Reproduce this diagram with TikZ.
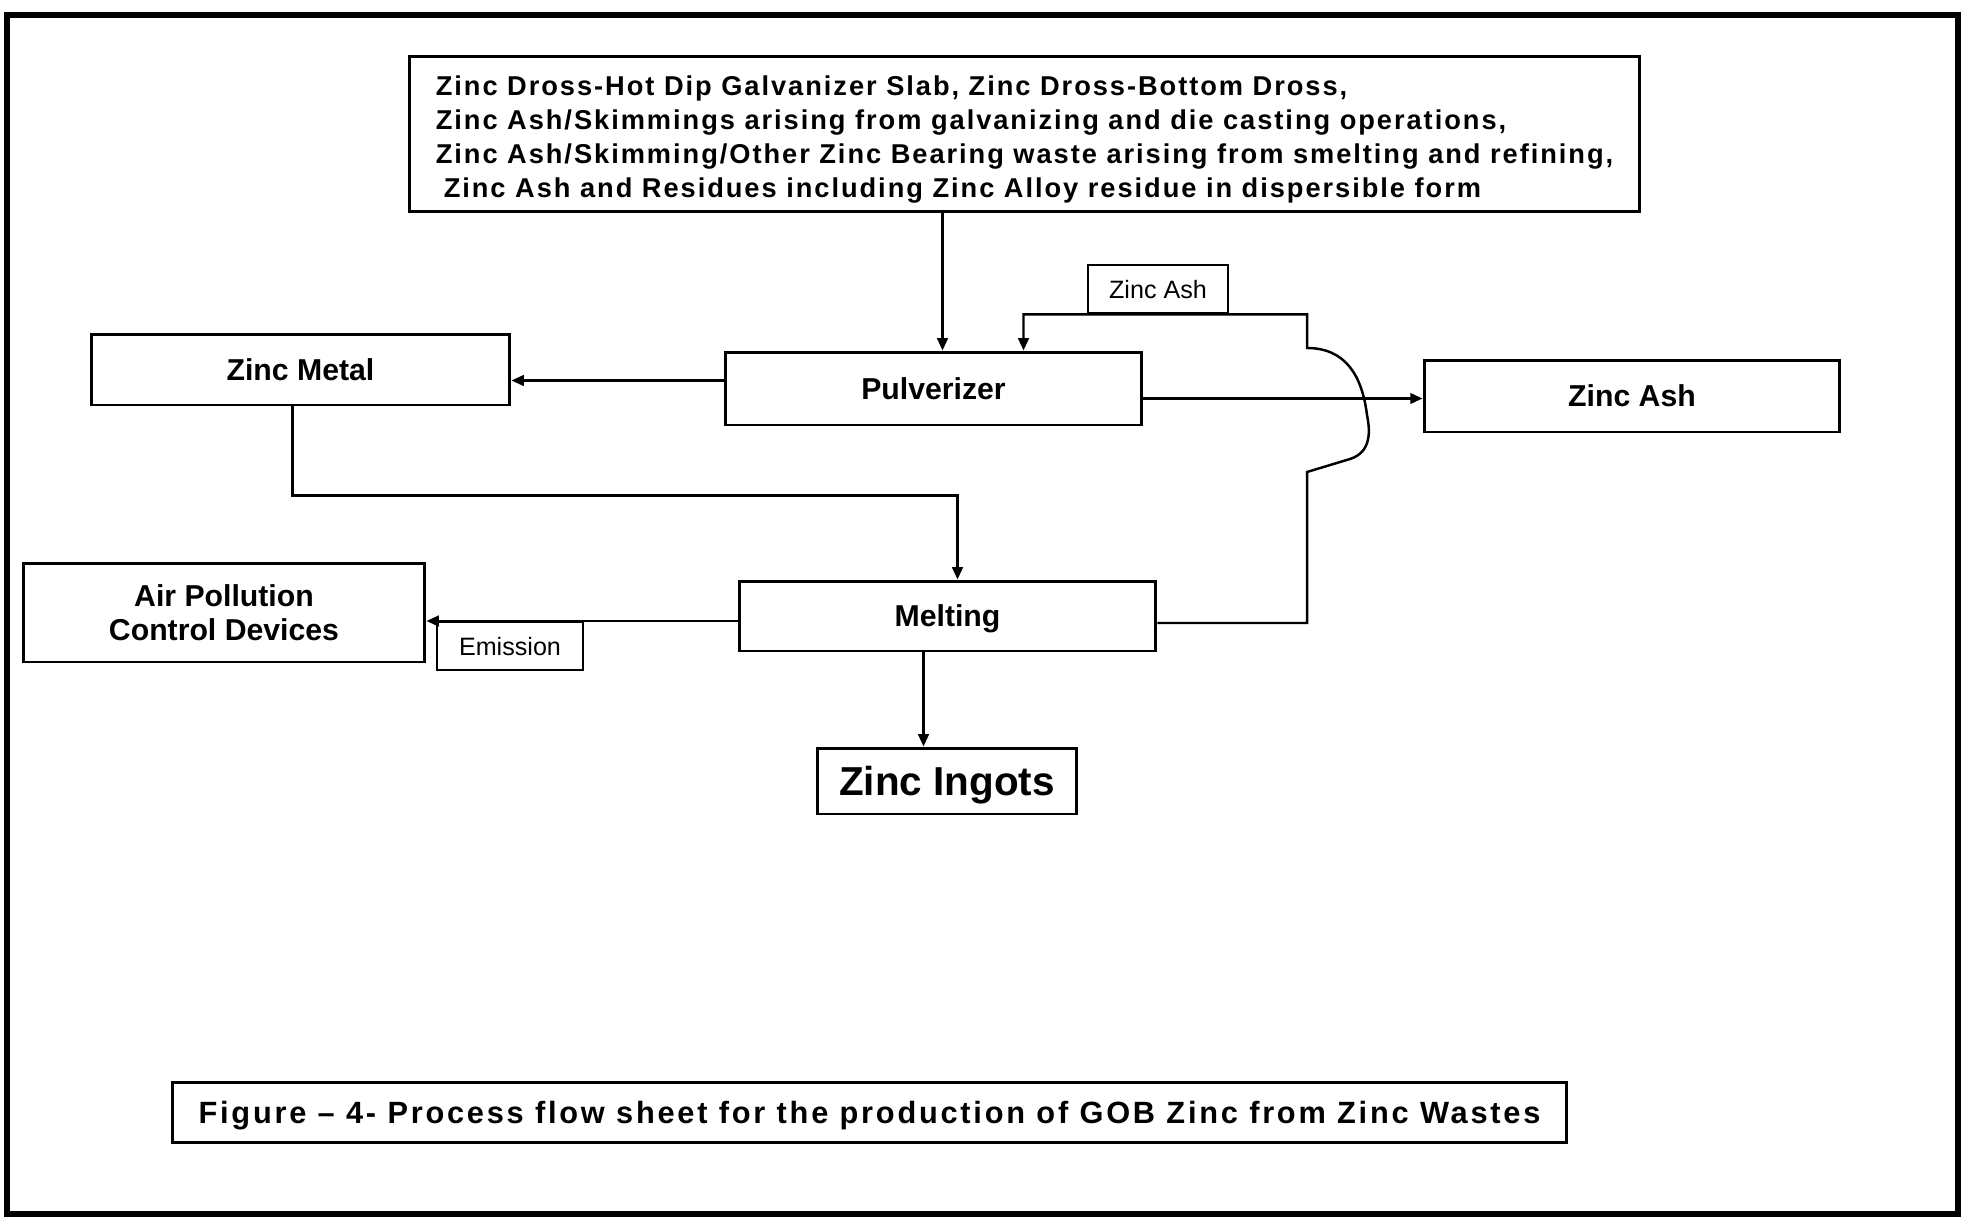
\documentclass[tikz,border=0pt]{standalone}
\usepackage{fontspec}
\setmainfont{Liberation Sans}
\newfontfamily\srcfont[LetterSpace=7.2]{Liberation Sans}
\newfontfamily\capfont[LetterSpace=9]{Liberation Sans}
\usetikzlibrary{arrows.meta,calc}

\begin{document}
\begin{tikzpicture}[x=0.02cm,y=-0.02cm,line join=miter,
  box/.style={draw,line width=1.7pt,rectangle,inner sep=0pt,font=\fontsize{17.2}{19.6}\selectfont\bfseries},
  one/.style={text depth=0pt},
  lbl/.style={draw,line width=1.5pt,rectangle,inner sep=0pt,minimum height=0.96cm,text depth=0pt,font=\fontsize{14.3}{16}\selectfont},
  flow/.style={line width=1.4pt,-{Triangle[length=7pt,width=6pt]}}]
\useasboundingbox (0,0) rectangle (1963,1223);
\draw[line width=3.5pt] (7,15) rectangle (1958,1214);

\node[box,minimum width=24.62cm,minimum height=3.12cm,align=left,
  font=\fontsize{15.5}{19.4}\srcfont\bfseries] (src) at (1024.5,134)
  {\rule{0pt}{17.7pt}Zinc Dross-Hot Dip Galvanizer Slab, Zinc Dross-Bottom Dross,\\
   Zinc Ash/Skimmings arising from galvanizing and die casting operations,\\
   Zinc Ash/Skimming/Other Zinc Bearing waste arising from smelting and refining,\\
   \hspace*{0.16cm}Zinc Ash and Residues including Zinc Alloy residue in dispersible form};
\node[box,one,minimum width=8.38cm,minimum height=1.42cm] (zmetal) at (300.5,369.5) {Zinc Metal};
\node[box,one,minimum width=8.34cm,minimum height=1.46cm] (pulv) at (933.5,388.5) {Pulverizer};
\node[box,one,minimum width=8.32cm,minimum height=1.44cm] (zash) at (1632,396) {Zinc Ash};
\node[lbl,minimum width=2.8cm] (ashlbl) at (1158,289) {Zinc Ash};
\node[box,minimum width=8.04cm,minimum height=1.98cm,align=center] (apc) at (224,612.5) {Air Pollution\\Control Devices};
\node[lbl,minimum width=2.92cm] (emis) at (510,646) {Emission};
\node[box,one,minimum width=8.34cm,minimum height=1.4cm] (melt) at (947.5,616) {Melting};
\node[box,one,minimum width=5.2cm,minimum height=1.32cm,font=\fontsize{23}{26}\selectfont\bfseries] (ingots) at (947,781) {Zinc Ingots};
\node[box,one,minimum width=27.9cm,minimum height=1.2cm,font=\fontsize{17.5}{20}\capfont\bfseries] (cap) at (869.5,1112)
  {Figure – 4- Process flow sheet for the production of GOB Zinc from Zinc Wastes};

\coordinate (bend) at (1307,472);
\coordinate (feed) at ($(pulv.north)+(90,0)$);

\draw[flow] ($(pulv.north)+(9,0)$) coordinate (p0) ++(0,-140) -- (p0);
\draw[flow] ($(pulv.west)+(0,-8)$) coordinate (p1) -- (p1 -| zmetal.east);
\draw[flow] ($(pulv.east)+(0,10)$) coordinate (p2) -- (p2 -| zash.west);
\draw[flow] ($(zmetal.south)+(-8,0)$) -- ++(0,89) -| ($(melt.north)+(10,0)$);
\draw[flow] ($(melt.west)+(0,5)$) coordinate (e1) -- (e1 -| apc.east);
\draw[flow] ($(melt.south)+(-24,0)$) coordinate (i1) -- (i1 |- ingots.north);
\draw[flow] ($(melt.east)+(0,7)$) -| (bend) -- (1350,459)
  .. controls (1372,452) and (1370,430) .. (1367,415)
  .. controls (1362,375) and (1345,348) .. (1307,348)
  -- (ashlbl.south -| bend) -- (ashlbl.south -| feed) -- (feed);
\end{tikzpicture}
\end{document}
